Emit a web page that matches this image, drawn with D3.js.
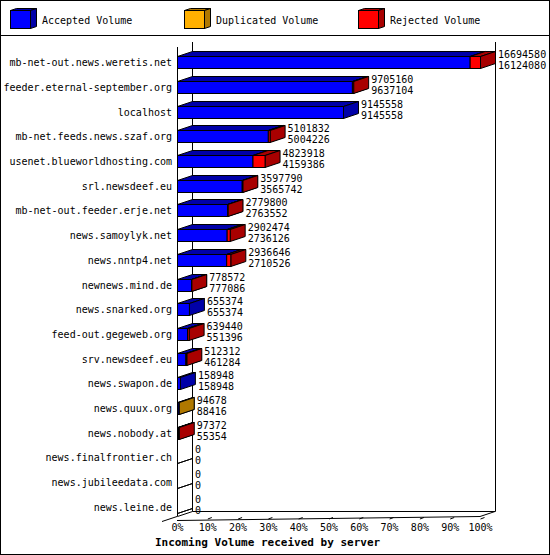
<!DOCTYPE html><html><head><meta charset="utf-8">
<script src="https://cdn.jsdelivr.net/npm/d3@7"></script>
<style>body{margin:0;background:#fff}</style></head><body><svg id="c" width="550" height="555"></svg>
<script>
const servers=["mb-net-out.news.weretis.net","feeder.eternal-september.org","localhost","mb-net.feeds.news.szaf.org","usenet.blueworldhosting.com","srl.newsdeef.eu","mb-net-out.feeder.erje.net","news.samoylyk.net","news.nntp4.net","newnews.mind.de","news.snarked.org","feed-out.gegeweb.org","srv.newsdeef.eu","news.swapon.de","news.quux.org","news.nobody.at","news.finalfrontier.ch","news.jubileedata.com","news.leine.de"];
const totalVol=[16694580,9705160,9145558,5101832,4823918,3597790,2779800,2902474,2936646,778572,655374,639440,512312,158948,94678,97372,0,0,0];
const acceptedVol=[16124080,9637104,9145558,5004226,4159386,3565742,2763552,2736126,2710526,777086,655374,551396,461284,158948,88416,55354,0,0,0];
const duplicatedVol=[0,0,0,0,0,0,0,0,0,0,0,0,0,0,6262,0,0,0,0];
const rejectedVol=[570500,68056,0,97606,664532,32048,16248,166348,226120,1486,0,88044,51028,0,0,42018,0,0,0];
const ticks=[0,10,20,30,40,50,60,70,80,90,100];
const legendNames=["Accepted Volume","Duplicated Volume","Rejected Volume"];
const front=["#0000ff","#ffb000","#ff0000"], side=["#0000a8","#b07800","#a80000"];
const svg=d3.select("#c"),F="DejaVu Sans Mono, monospace";
svg.append("rect").attr("x",0.5).attr("y",0.5).attr("width",549).attr("height",554).attr("fill","#fff").attr("stroke","#000");
svg.append("line").attr("x1",0).attr("x2",550).attr("y1",35.5).attr("y2",35.5).attr("stroke","#000");
const DX=15,DY=-5;
function cube(g,x,y,w,h,fi,dx=DX,dy=DY){
 g.append("path").attr("d",`M${x},${y}l${dx},${dy}h${w}l${-dx},${-dy}z`).attr("fill",side[fi]).attr("stroke","#000");
 g.append("path").attr("d",`M${x+w},${y}l${dx},${dy}v${h}l${-dx},${-dy}z`).attr("fill",side[fi]).attr("stroke","#000");
 g.append("rect").attr("x",x).attr("y",y).attr("width",w).attr("height",h).attr("fill",front[fi]).attr("stroke","#000");
}
legendNames.forEach((n,i)=>{const x=10+i*174;cube(svg,x+0.5,10.5,20,18,i,6,-2);
 svg.append("text").attr("x",x+32).attr("y",24).attr("font-family",F).attr("font-size",10).text(n);});
const x=d3.scaleLinear().domain([0,d3.max(totalVol)]).range([177,480]);
const xp=d3.scaleLinear().domain([0,100]).range([177,480]);
const y=d3.scaleBand().domain(servers).range([47,516]);
const X0=177,YB=516;
const g=svg.append("g");
g.append("path").attr("d",`M${X0+DX+.5},${47+DY}V${YB+DY+.5}H${480+DX+.5}V${47+DY}`).attr("fill","none").attr("stroke","#000");
g.append("path").attr("d",`M${X0+.5},${47}V${YB+.5}l${DX},${DY}`).attr("fill","none").attr("stroke","#000");
g.append("line").attr("x1",X0-DX).attr("y1",YB+5.5).attr("x2",X0).attr("y2",YB+.5).attr("stroke","#000");
ticks.forEach(t=>{const tx=xp(t)+.5;
 g.append("line").attr("x1",tx).attr("y1",YB+3).attr("x2",tx+(t?4:0)).attr("y2",YB+3-(t?1.5:0)).attr("stroke","#000");
 g.append("text").attr("x",tx).attr("y",YB+15).attr("text-anchor","middle").attr("font-family",F).attr("font-size",10).text(t+"%");});
g.append("path").attr("d",`M${X0},${YB+4.5}L${480},${YB+.5}l${DX},${DY}`).attr("fill","none").attr("stroke","#000");
servers.forEach((s,i)=>{
 const yc=y(s)+y.bandwidth()/2+3, top=Math.round(yc-6)+.5, h=12;
 g.append("text").attr("x",172).attr("y",yc+4).attr("text-anchor","end").attr("font-family",F).attr("font-size",10).text(s);
 const segs=[[acceptedVol[i],0],[duplicatedVol[i],1],[rejectedVol[i],2]];
 if(totalVol[i]===0){
  g.append("path").attr("d",`M${X0+.5},${top+h}l${DX},${DY}h0l${-DX},${-DY}z`).attr("fill","none").attr("stroke","#000");
 } else {
  let cum=0;
  segs.forEach(([v,c])=>{if(v>0){const x0=x(cum),x1=x(cum+v);cube(g,x0+.5,top,Math.max(x1-x0,0.1),h,c);cum+=v;}});
 }
 const lx=x(totalVol[i])+DX+3;
 g.append("text").attr("x",lx).attr("y",top+1).attr("font-family",F).attr("font-size",10).text(totalVol[i]);
 g.append("text").attr("x",lx).attr("y",top+12).attr("font-family",F).attr("font-size",10).text(acceptedVol[i]);
});
svg.append("text").attr("x",155).attr("y",546).attr("font-family",F).attr("font-size",11).attr("font-weight","bold").text("Incoming Volume received by server");
</script></body></html>
